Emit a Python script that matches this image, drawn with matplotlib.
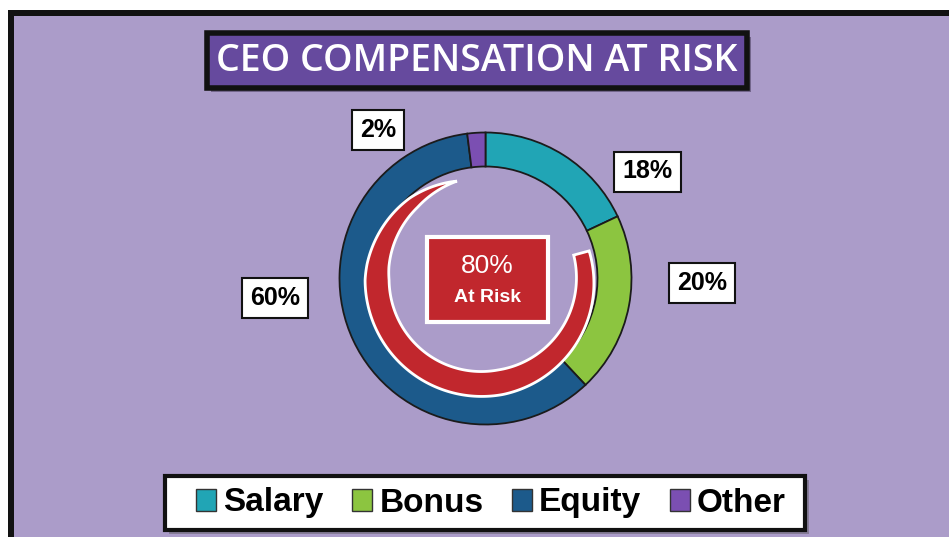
import numpy as np
import matplotlib.pyplot as plt
import matplotlib.patheffects as pe
from matplotlib.patches import Rectangle, Polygon, Patch

W, H = 949, 537

categories = ["Salary", "Bonus", "Equity", "Other"]
shares = [18, 20, 60, 2]
colors = ["#21a5b5", "#8cc540", "#1c5a8b", "#7b4fb2"]
at_risk = 80
at_risk_label = "At Risk"
title = "CEO COMPENSATION AT RISK"


def py(y):
    # pixel row (from top) -> data y
    return H - y


fig = plt.figure(figsize=(W / 100, H / 100), dpi=100)
fig.patch.set_facecolor("white")
ax = fig.add_axes([0, 0, 1, 1])

# background panel with black border on top / left
ax.add_patch(Rectangle((8, 0), W - 8, py(10), fc="#121212", ec="none", zorder=0))
ax.add_patch(Rectangle((14, 0), W - 14, py(16), fc="#ab9cc9", ec="none", zorder=0))

# donut
cx, cy = 485.5, py(278.5)
wedges, _ = ax.pie(shares, colors=colors, startangle=90, counterclock=False,
                   radius=146, center=(cx, cy),
                   wedgeprops=dict(width=34, edgecolor="#1b1b1b", linewidth=1.3))
for w in wedges:
    w.set_zorder(2)

# red "at risk" arc spanning the bonus + equity wedges
salary, bonus, equity, other = shares
a_start = 90 - salary * 3.6 - 10
a_end = 90 - (salary + bonus + equity) * 3.6 + 7
t = np.linspace(0, 1, 400)
theta = np.radians(a_start + (a_end - a_start) * t)
wid = np.interp(t, [0, 0.35, 0.72, 0.9, 1.0], [16, 25, 24, 12, 0])
rc = np.interp(t, [0, 0.4, 0.75, 1.0], [103, 104, 105, 102])
rcx, rcy = 482, py(280)
outer = np.column_stack([rcx + (rc + wid / 2) * np.cos(theta), rcy + (rc + wid / 2) * np.sin(theta)])
inner = np.column_stack([rcx + (rc - wid / 2) * np.cos(theta), rcy + (rc - wid / 2) * np.sin(theta)])
ax.add_patch(Polygon(np.vstack([outer, inner[::-1]]), closed=True,
                     fc="#c1272d", ec="white", lw=2, zorder=3))

# centre box
ax.add_patch(Rectangle((427, py(322)), 121, 85, fc="#c1272d", ec="white", lw=3, zorder=3))
ax.text(487.5, py(266), f"{at_risk}%", ha="center", va="center", color="white",
        fontsize=19, family="Liberation Sans", zorder=4)
ax.text(487.5, py(297), at_risk_label, ha="center", va="center", color="white",
        fontsize=14, weight="bold", family="Liberation Sans", zorder=4)

# percent labels
label_pos = [(647.5, 171.5), (702, 282.5), (275, 298), (378, 130)]
for v, (x, y) in zip(shares, label_pos):
    ax.text(x, py(y), f"{v}%", ha="center", va="center", fontsize=18, weight="bold",
            family="Liberation Sans", zorder=5,
            bbox=dict(boxstyle="square,pad=0.32", fc="white", ec="#111111", lw=1.5))

# title
shadow = [pe.SimplePatchShadow(offset=(3, -3), alpha=0.4), pe.Normal()]
ax.add_patch(Rectangle((207, py(88)), 540, 55, fc="#664a9e", ec="#111111", lw=4,
                       zorder=3, path_effects=shadow))
ax.text(477, py(61), title, ha="center", va="center", color="white", fontsize=27,
        weight="semibold", family="Open Sans", zorder=4)

# legend box
ax.add_patch(Rectangle((165, py(530)), 640, 54, fc="white", ec="#111111", lw=3,
                       zorder=3, path_effects=shadow))

ax.set_xlim(0, W)
ax.set_ylim(0, H)
ax.set_aspect("auto")
ax.axis("off")

# legend entries
handles = [Patch(fc=c, ec="#333333", lw=1) for c in colors]
leg = fig.legend(handles, categories, ncol=4, loc="center",
                 bbox_to_anchor=(491 / W, 1 - 503 / H),
                 prop=dict(family="Liberation Sans", weight="bold", size=24),
                 frameon=False,
                 handlelength=0.6, handleheight=0.65, handletextpad=0.22,
                 columnspacing=0.85, borderpad=0.3, borderaxespad=0)
leg.set_zorder(5)

fig.savefig("out.png", dpi=100)
